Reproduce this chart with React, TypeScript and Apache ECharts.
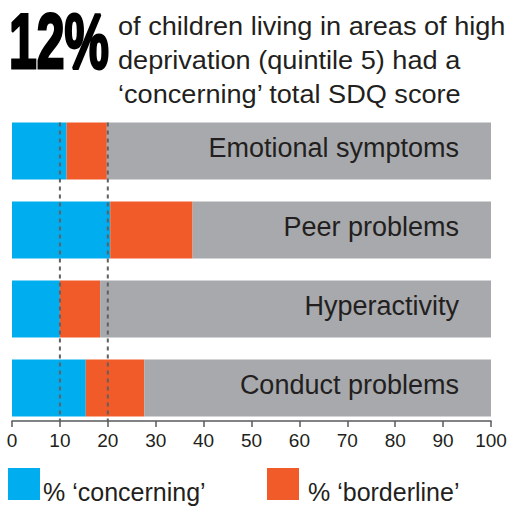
import React, { useEffect, useRef } from "react";
import * as echarts from "echarts";

const categories = ["Emotional symptoms", "Peer problems", "Hyperactivity", "Conduct problems"];
const concerning = [11.4, 20.5, 10.0, 15.4];
const borderline = [8.4, 17.2, 8.4, 12.2];
const referenceLines = [10, 20];
const xMin = 0;
const xMax = 100;
const xInterval = 10;
const headline = "12%";
const subtitleLines = [
  "of children living in areas of high",
  "deprivation (quintile 5) had a",
  "‘concerning’ total SDQ score",
];
const seriesNames = ["% ‘concerning’", "% ‘borderline’"];

const BLUE = "#00aeef";
const ORANGE = "#f15a29";
const GREY = "#a7a9ac";
const INK = "#231f20";
const DASH = "#5f6062";
const BAR_W = 57;
const AXIS_OFFSET = -6.5;

export default function App() {
  const ref = useRef<HTMLDivElement>(null);
  useEffect(() => {
    if (!ref.current) return;
    const chart = echarts.init(ref.current, null, { renderer: "svg" });
    const remainder = concerning.map((c, i) => +(xMax - c - borderline[i]).toFixed(2));
    const font = "'Liberation Sans', Arial, Helvetica, sans-serif";
    const legendItems = [
      { name: seriesNames[0], color: BLUE, boxX: 8, textX: 43 },
      { name: seriesNames[1], color: ORANGE, boxX: 267, textX: 308 },
    ];
    chart.setOption({
      animation: false,
      textStyle: { fontFamily: font },
      grid: { left: 12, right: 24, top: 111.5, height: 316 },
      xAxis: {
        type: "value",
        min: xMin,
        max: xMax,
        interval: xInterval,
        position: "bottom",
        offset: AXIS_OFFSET,
        axisLine: { show: true, lineStyle: { color: "#58595b", width: 1.5 } },
        axisTick: { show: true, length: 6, lineStyle: { color: "#58595b", width: 1.5 } },
        axisLabel: { fontSize: 19, color: INK, margin: 10, fontFamily: font },
        splitLine: { show: false },
      },
      yAxis: { type: "category", data: categories, inverse: true, show: false },
      series: [
        {
          name: seriesNames[0],
          type: "bar",
          stack: "s",
          barWidth: BAR_W,
          data: concerning,
          itemStyle: { color: BLUE },
          silent: true,
        },
        {
          name: seriesNames[1],
          type: "bar",
          stack: "s",
          barWidth: BAR_W,
          data: borderline,
          itemStyle: { color: ORANGE },
          silent: true,
        },
        {
          name: "rest",
          type: "bar",
          stack: "s",
          barWidth: BAR_W,
          data: remainder,
          itemStyle: { color: GREY },
          silent: true,
          label: {
            show: true,
            position: "insideRight",
            distance: 32,
            offset: [0, -3],
            formatter: (p: any) => categories[p.dataIndex],
            fontSize: 27,
            color: INK,
            fontFamily: font,
          },
        },
        {
          name: "ref",
          type: "custom",
          z: 10,
          silent: true,
          data: referenceLines.map((v) => [v, 0]),
          renderItem: (params: any, api: any) => {
            const x = api.coord([api.value(0), 0])[0];
            const yTop = api.coord([api.value(0), 0])[1] - BAR_W / 2;
            const yBot = params.coordSys.y + params.coordSys.height + AXIS_OFFSET;
            return {
              type: "line",
              shape: { x1: x, y1: yTop, x2: x, y2: yBot },
              style: { stroke: DASH, lineWidth: 2, lineDash: [4, 4] },
            };
          },
        },
      ],
      graphic: [
        {
          type: "group",
          x: 9,
          y: 2,
          scaleX: 0.64,
          scaleY: 1,
          children: [
            {
              type: "text",
              x: 0,
              y: 0,
              style: {
                text: headline,
                font: "bold 78px 'Liberation Sans', Arial, sans-serif",
                fill: "#000",
                stroke: "#000",
                lineWidth: 3,
                verticalAlign: "top",
              },
            },
          ],
        },
        ...subtitleLines.map((t, i) => ({
          type: "group",
          x: 118,
          y: 14 + i * 34,
          scaleX: 1.085,
          scaleY: 1,
          children: [
            {
              type: "text",
              x: 0,
              y: 0,
              style: {
                text: t,
                font: `25px ${font}`,
                fill: INK,
                verticalAlign: "top",
              },
            },
          ],
        })),
        ...legendItems.flatMap((it) => [
          {
            type: "rect",
            shape: { x: it.boxX, y: 468, width: 32, height: 32 },
            style: { fill: it.color },
          },
          {
            type: "text",
            x: it.textX,
            y: 491.5,
            style: {
              text: it.name,
              font: `25px ${font}`,
              fill: INK,
              verticalAlign: "middle",
            },
          },
        ]),
      ],
    });
    return () => chart.dispose();
  }, []);
  return (
    <div
      ref={ref}
      style={{ position: "fixed", left: 0, top: 0, width: 515, height: 506, background: "#fff" }}
    />
  );
}
